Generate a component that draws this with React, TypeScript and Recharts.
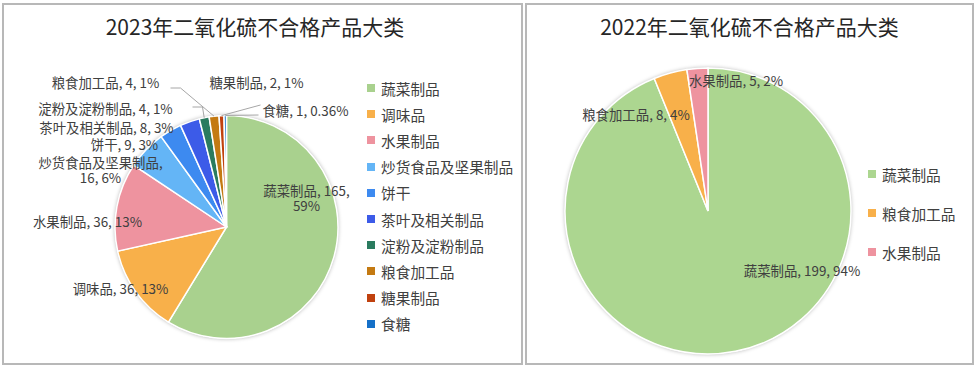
import { PieChart, Pie, Cell, Legend } from "recharts";

const CATS_2023 = [
  "蔬菜制品", "调味品", "水果制品", "炒货食品及坚果制品", "饼干",
  "茶叶及相关制品", "淀粉及淀粉制品", "粮食加工品", "糖果制品", "食糖",
];
const VALUES_2023 = [165, 36, 36, 16, 9, 8, 4, 4, 2, 1];
const PCT_2023 = ["59%", "13%", "13%", "6%", "3%", "3%", "1%", "1%", "1%", "0.36%"];
const COLORS_2023 = [
  "#a9d18e", "#f8b04a", "#ee939f", "#64b5f6", "#3d8af0",
  "#3c5be8", "#2a7b5f", "#c47a12", "#c0410e", "#1570c8",
];

const CATS_2022 = ["蔬菜制品", "粮食加工品", "水果制品"];
const VALUES_2022 = [199, 8, 5];
const PCT_2022 = ["94%", "4%", "2%"];
const COLORS_2022 = ["#acd690", "#f8b04a", "#ee939f"];

const FONT = "'Noto Sans CJK SC', 'Noto Sans', sans-serif";
const TEXT = "#404040";

// label spots relative to pie centre: [dx, dy, split] (split: 0 none, 1 after name, 2 after value)
const SPOTS_2023: [number, number, number][] = [
  [80, -25.5, 2], [-106, 65, 0], [-139, -2, 0], [-126, -53.5, 1], [-102, -79, 0],
  [-120, -96, 0], [-121, -115, 0], [-121, -141, 0], [30, -141, 0], [79, -113, 0],
];
const LEADERS_2023: Record<number, [number, number][]> = {
  6: [[-24, -120], [-34, -120]],
  7: [[-46, -139], [-56, -139]],
  8: [[34, -122]],
  9: [[32, -112]],
};
const SPOTS_2022: [number, number, number][] = [[94, 63, 0], [-72, -93, 0], [28, -127, 0]];

const RAD = Math.PI / 180;

function makeLabel(cats: string[], vals: number[], pcts: string[], spots: [number, number, number][], leaders: Record<number, [number, number][]>) {
  return (p: any) => {
    const i = p.index;
    const [dx, dy, split] = spots[i];
    const x = p.cx + dx;
    const y = p.cy + dy - 4.5;
    let lines = [`${cats[i]}, ${vals[i]}, ${pcts[i]}`];
    if (split === 1) lines = [`${cats[i]},`, `${vals[i]}, ${pcts[i]}`];
    if (split === 2) lines = [`${cats[i]}, ${vals[i]},`, pcts[i]];
    const lead = leaders[i];
    let line = null;
    if (lead) {
      const ax = p.cx + p.outerRadius * Math.cos(-p.midAngle * RAD);
      const ay = p.cy + p.outerRadius * Math.sin(-p.midAngle * RAD);
      const pts = [[ax, ay], ...lead.map(([lx, ly]) => [p.cx + lx, p.cy + ly])];
      line = <polyline points={pts.map((q) => q.join(",")).join(" ")} fill="none" stroke="#a6a6a6" strokeWidth={1} />;
    }
    const y0 = y - ((lines.length - 1) * 15) / 2;
    return (
      <g key={`lbl-${i}`}>
        {line}
        {lines.map((t, k) => (
          <text key={k} x={x} y={y0 + k * 15} textAnchor="middle" dominantBaseline="central"
            fontSize={13.4} fill={TEXT} fontFamily={FONT}>{t}</text>
        ))}
      </g>
    );
  };
}

function makeLegend(cats: string[], colors: string[], rowH: number) {
  return () => (
    <div style={{ fontFamily: FONT, fontSize: 14.7, color: TEXT }}>
      {cats.map((c, i) => (
        <div key={c} style={{ height: rowH, display: "flex", alignItems: "center" }}>
          <span style={{ width: 8, height: 8, background: colors[i], marginRight: 6, display: "inline-block" }} />
          {c}
        </div>
      ))}
    </div>
  );
}

const Shadow = () => (
  <defs>
    <filter id="pieShadow" x="-20%" y="-20%" width="140%" height="140%">
      <feDropShadow dx="0" dy="0" stdDeviation="2" floodColor="#000" floodOpacity="0.35" />
    </filter>
  </defs>
);

const boxStyle = (left: number, width: number): React.CSSProperties => ({
  position: "absolute", left, top: 3, width, height: 362, boxSizing: "border-box",
  border: "2px solid #b8b8b8", background: "#fff",
});

const titleStyle = (center: number): React.CSSProperties => ({
  position: "absolute", left: center - 200, width: 400, top: 11, textAlign: "center",
  fontFamily: FONT, fontSize: 21, color: "#262626", lineHeight: "30px", whiteSpace: "nowrap",
});

export default function App() {
  const d23 = CATS_2023.map((c, i) => ({ name: c, value: VALUES_2023[i] }));
  const d22 = CATS_2022.map((c, i) => ({ name: c, value: VALUES_2022[i] }));
  return (
    <div style={{ position: "absolute", left: 0, top: 0, width: 976, height: 367, background: "#fff" }}>
      <div style={boxStyle(2, 521)} />
      <div style={boxStyle(525, 449)} />
      <div style={titleStyle(255)}>2023年二氧化硫不合格产品大类</div>
      <div style={titleStyle(749.5)}>2022年二氧化硫不合格产品大类</div>

      <div style={{ position: "absolute", left: 0, top: 0 }}>
        <PieChart width={522} height={367}>
          <Shadow />
          <Pie data={[{ v: 1 }]} dataKey="v" cx={221.5} cy={222} outerRadius={111.5}
            startAngle={90} endAngle={-270} stroke="none" isAnimationActive={false}>
            <Cell fill="#fff" filter="url(#pieShadow)" />
          </Pie>
          <Pie data={d23} dataKey="value" nameKey="name" cx={221.5} cy={222} outerRadius={111.5}
            startAngle={90} endAngle={-270} stroke="#fff" strokeWidth={1.5}
            isAnimationActive={false} labelLine={false}
            label={makeLabel(CATS_2023, VALUES_2023, PCT_2023, SPOTS_2023, LEADERS_2023)}>
            {d23.map((_, i) => <Cell key={i} fill={COLORS_2023[i]} />)}
          </Pie>
          <Legend layout="vertical" align="right" verticalAlign="top"
            wrapperStyle={{ left: 367, top: 75, width: 152 }}
            content={makeLegend(CATS_2023, COLORS_2023, 26.2)} />
        </PieChart>
      </div>

      <div style={{ position: "absolute", left: 525, top: 0 }}>
        <PieChart width={451} height={367}>
          <Shadow />
          <Pie data={[{ v: 1 }]} dataKey="v" cx={178} cy={206} outerRadius={143}
            startAngle={90} endAngle={-270} stroke="none" isAnimationActive={false}>
            <Cell fill="#fff" filter="url(#pieShadow)" />
          </Pie>
          <Pie data={d22} dataKey="value" nameKey="name" cx={178} cy={206} outerRadius={143}
            startAngle={90} endAngle={-270} stroke="#fff" strokeWidth={1.5}
            isAnimationActive={false} labelLine={false}
            label={makeLabel(CATS_2022, VALUES_2022, PCT_2022, SPOTS_2022, {})}>
            {d22.map((_, i) => <Cell key={i} fill={COLORS_2022[i]} />)}
          </Pie>
          <Legend layout="vertical" align="right" verticalAlign="top"
            wrapperStyle={{ left: 343, top: 154.5, width: 105 }}
            content={makeLegend(CATS_2022, COLORS_2022, 39)} />
        </PieChart>
      </div>
    </div>
  );
}
